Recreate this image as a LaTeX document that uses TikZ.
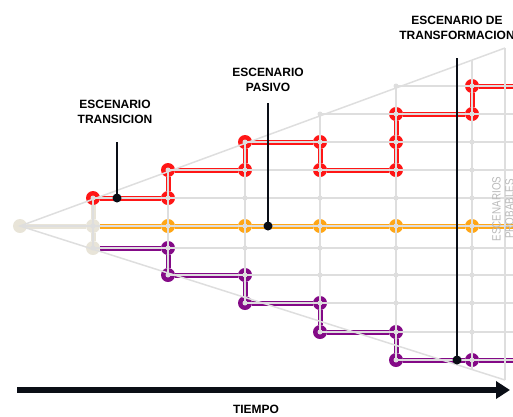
\documentclass[tikz,border=0pt]{standalone}
\usepackage{fontspec}
\setmainfont{Liberation Sans}
\usepackage{tikz}
\usetikzlibrary{positioning,calc}
\usetikzlibrary{arrows.meta}
\definecolor{GridGray}{RGB}{222,222,222}
\definecolor{SandGray}{RGB}{232,228,216}
\definecolor{ScnRed}{RGB}{255,22,22}
\definecolor{ScnOrange}{RGB}{255,166,22}
\definecolor{ScnPurple}{RGB}{132,10,135}
\definecolor{SideGray}{RGB}{185,185,185}
\definecolor{InkBlack}{RGB}{10,14,22}
\tikzset{
	snode/.style={circle,fill=#1,inner sep=0pt,minimum size=14pt},
	gdot/.style={circle,fill=GridGray,inner sep=0pt,minimum size=5pt},
	route/.style={draw=#1,line width=5pt},
	gline/.style={draw=GridGray,line width=1.8pt},
	mline/.style={draw=InkBlack,line width=2.8pt},
	blob/.style={circle,fill=InkBlack,inner sep=0pt,minimum size=9pt},
	lbl/.style={font=\bfseries\fontsize{12}{15}\selectfont,align=center,inner sep=0pt},
}
\begin{document}
\begin{tikzpicture}[x=1pt,y=-1pt]
	\useasboundingbox (0,0) rectangle (513,416);
	% grid points
	\coordinate (0z) at (20,226);
	\foreach \r/\y/\k in {u5/86/5,u4/114/4,u3/142/3,u2/170/2,u1/198/1,z/226/1,d1/248/1,d2/275/2,d3/303/3,d4/332/4,d5/360/5}{
		\foreach \c/\x in {1/93,2/168,3/245,4/320,5/396,6/472}{
			\ifnum\c<\k\relax\else\coordinate (\c\r) at (\x,\y);\fi
		}
		\coordinate (e\r) at (513,\y);
	}
	\coordinate (ctop) at (505,48);
	\coordinate (cbot) at (505,380);
	\coordinate (6top) at (472,60);
	\coordinate (6bot) at (472,370);

	% scenario points
	\node[snode=SandGray] (b0) at (0z) {};
	\node[snode=SandGray] (b1) at (1z) {};
	\node[snode=SandGray] (b2) at (1d1) {};
	\node[snode=ScnRed] (r1) at (1u1) {};
	\node[snode=ScnRed] (r2) at (2u1) {};
	\node[snode=ScnRed] (r3) at (2u2) {};
	\node[snode=ScnRed] (r4) at (3u2) {};
	\node[snode=ScnRed] (r5) at (3u3) {};
	\node[snode=ScnRed] (r6) at (4u3) {};
	\node[snode=ScnRed] (r7) at (4u2) {};
	\node[snode=ScnRed] (r8) at (5u2) {};
	\node[snode=ScnRed] (r9) at (5u3) {};
	\node[snode=ScnRed] (r10) at (5u4) {};
	\node[snode=ScnRed] (r11) at (6u4) {};
	\node[snode=ScnRed] (r12) at (6u5) {};
	\node[snode=ScnOrange] (o2) at (2z) {};
	\node[snode=ScnOrange] (o3) at (3z) {};
	\node[snode=ScnOrange] (o4) at (4z) {};
	\node[snode=ScnOrange] (o5) at (5z) {};
	\node[snode=ScnOrange] (o6) at (6z) {};
	\node[snode=ScnPurple] (p1) at (2d1) {};
	\node[snode=ScnPurple] (p2) at (2d2) {};
	\node[snode=ScnPurple] (p3) at (3d2) {};
	\node[snode=ScnPurple] (p4) at (3d3) {};
	\node[snode=ScnPurple] (p5) at (4d3) {};
	\node[snode=ScnPurple] (p6) at (4d4) {};
	\node[snode=ScnPurple] (p7) at (5d4) {};
	\node[snode=ScnPurple] (p8) at (5d5) {};
	\node[snode=ScnPurple] (p9) at (6d5) {};

	% scenario routes
	\draw[route=SandGray] (b0) -- (b1);
	\draw[route=SandGray] (r1) -- (b1) -- (b2);
	\draw[route=ScnRed] (r1) -- (r2) -- (r3) -- (r4) -- (r5) -- (r6) -- (r7) -- (r8) -- (r9) -- (r10) -- (r11) -- (r12) -- (eu5);
	\draw[route=ScnOrange] (b1) -- (o2) -- (o3) -- (o4) -- (o5) -- (o6) -- (ez);
	\draw[route=ScnPurple] (b2) -- (p1) -- (p2) -- (p3) -- (p4) -- (p5) -- (p6) -- (p7) -- (p8) -- (p9) -- (ed5);

	% probable grid and cone
	\foreach \r/\k in {u5/5,u4/4,u3/3,u2/2,u1/1,z/0,d1/1,d2/2,d3/3,d4/4,d5/5}
		\draw[gline] (\k\r) -- (e\r);
	\foreach \c/\t/\b in {1/u1/d1,2/u2/d2,3/u3/d3,4/u4/d4,5/u5/d5}
		\draw[gline] (\c\t) -- (\c\b);
	\draw[gline] (6top) -- (6bot);
	\draw[gline] (ctop) -- (cbot);
	\draw[draw=GridGray,line width=1.5pt] (ctop) -- (0z) -- (cbot);
	\foreach \r/\k in {u5/5,u4/4,u3/3,u2/2,u1/1,z/1,d1/1,d2/2,d3/3,d4/4,d5/5}
		\foreach \c in {1,...,6}{
			\ifnum\c<\k\relax\else\node[gdot] (g\c\r) at (\c\r) {};\fi
		}
	\node[font=\fontsize{12}{13}\selectfont,text=SideGray,rotate=90,align=center,inner sep=0pt] (side) at (503,209) {\scalebox{0.82}[1]{ESCENARIOS}\\\scalebox{0.82}[1]{PROBABLES}};

	% time axis
	\coordinate (t0) at (17,390);
	\coordinate (t1) at (510,390);
	\draw[InkBlack,line width=5.5pt,-{Triangle[length=14pt,width=17pt]}] (t0) -- (t1);
	\node[lbl,anchor=north] (tiempo) at (256,405) {TIEMPO};

	% scenario callouts
	\node[lbl] (ltr) at (115,112) {ESCENARIO\\TRANSICION};
	\node[lbl] (lpa) at (268,80) {ESCENARIO\\PASIVO};
	\node[lbl] (ltf) at (457,28) {ESCENARIO DE\\TRANSFORMACION};
	\node[blob] (ktr) at (117,198) {};
	\node[blob] (kpa) at (268,226) {};
	\node[blob] (ktf) at (457,360) {};
	\coordinate (ktr-top) at (117,142);
	\coordinate (kpa-top) at (268,103);
	\coordinate (ktf-top) at (457,58);
	\draw[mline] (ktr-top) -- (ktr.center);
	\draw[mline] (kpa-top) -- (kpa.center);
	\draw[mline] (ktf-top) -- (ktf.center);
\end{tikzpicture}
\end{document}
